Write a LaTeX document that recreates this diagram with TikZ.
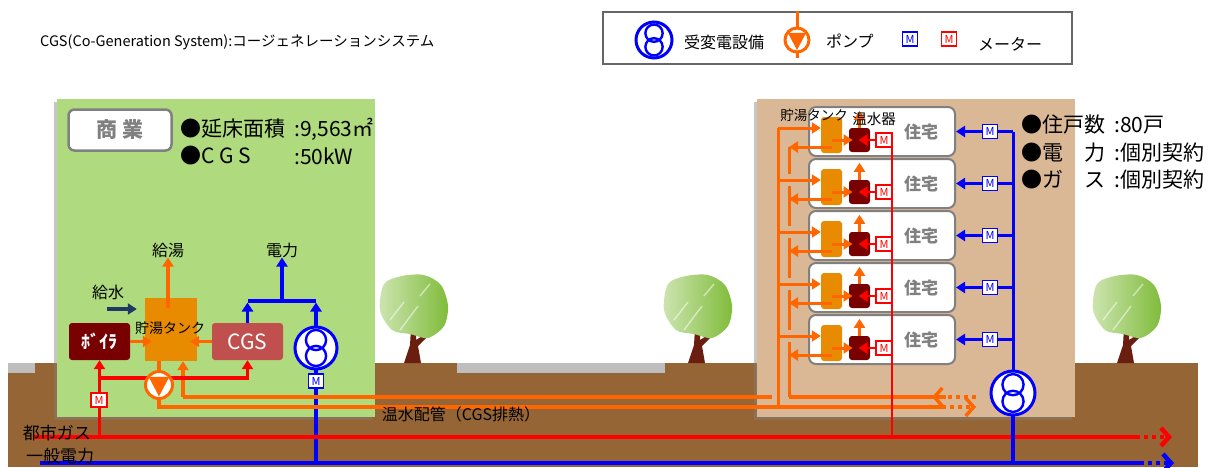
\documentclass[tikz,border=0pt]{standalone}
\usepackage{fontspec}
\setmainfont{Noto Sans CJK JP}
\usetikzlibrary{arrows.meta,shadows,calc}

\definecolor{soil}{RGB}{150,101,53}
\definecolor{road}{RGB}{190,190,190}
\definecolor{shopgreen}{RGB}{175,219,126}
\definecolor{housetan}{RGB}{219,184,149}
\definecolor{hotwater}{RGB}{255,102,0}
\definecolor{tankorange}{RGB}{233,139,0}
\definecolor{boilerred}{RGB}{120,0,0}
\definecolor{cgsred}{RGB}{192,80,77}
\definecolor{feednavy}{RGB}{31,56,100}
\definecolor{leaf}{RGB}{128,188,58}
\definecolor{bark}{RGB}{105,30,15}
\definecolor{frame}{RGB}{128,128,128}

\newcommand{\txtsize}[1]{\fontsize{#1}{#1}\selectfont}

\begin{document}
\begin{tikzpicture}[x=1pt,y=-1pt]

\tikzset{lbl/.style = {inner sep=0pt, font=\txtsize{16}}}
\tikzset{hot/.style = {draw=hotwater, line width=3.5pt}}
\tikzset{gas/.style = {draw=red, line width=3.5pt}}
\tikzset{elec/.style = {draw=blue, line width=3.5pt}}
\tikzset{edge/.style = {-{Triangle[length=9pt,width=11pt]}}}
\tikzset{barb/.style = {dash pattern=on 4pt off 4pt, -{Straight Barb[length=8pt,width=18pt]}}}
\tikzset{unit/.style = {rounded corners=3pt, inner sep=0pt}}
\tikzset{bldg/.style = {drop shadow={shadow xshift=-3pt, shadow yshift=-3pt, opacity=.45}}}
\tikzset{meter/.style = {draw=#1, fill=white, text=#1, line width=1.2pt, minimum width=15pt,
  minimum height=14pt, inner sep=0pt, font=\txtsize{11}}}
\tikzset{trafo/.style = {circle, draw=blue, line width=3pt, fill=white, minimum size=#1, inner sep=0pt,
  path picture={\draw[blue, line width=2.4pt]
    ([yshift={0.19*#1}]path picture bounding box.center) circle [radius={0.24*#1}]
    ([yshift={-0.19*#1}]path picture bounding box.center) circle [radius={0.24*#1}];}}}
\tikzset{pump/.style = {circle, draw=hotwater, line width=3pt, fill=white, minimum size=#1, inner sep=0pt,
  path picture={\fill[hotwater]
    ([shift={(-0.38*#1,0.3*#1)}]path picture bounding box.center) --
    ([shift={(0.38*#1,0.3*#1)}]path picture bounding box.center) --
    ([shift={(0,-0.42*#1)}]path picture bounding box.center) -- cycle;}}}

\useasboundingbox (0,0) rectangle (1213,467);

% ground, roads, trees
\fill[soil] (8,363) rectangle (1198,467);
\fill[road] (8,363) rectangle (35,373);
\fill[road] (457,363) rectangle (665,373);
\foreach \tx in {414,698,1127}{
  \fill[bark] (\tx-10,363) -- (\tx-4,345) -- (\tx-3,328) -- (\tx+2,328) -- (\tx+2,340)
    -- (\tx+13,333) -- (\tx+14,336) -- (\tx+4,346) -- (\tx+7,363) -- cycle;
  \shade[left color=leaf!40!white, right color=leaf] plot[smooth cycle] coordinates
    {(\tx-30,284) (\tx-12,276) (\tx+10,275) (\tx+27,285) (\tx+34,306) (\tx+30,326)
     (\tx+14,338) (\tx-4,334) (\tx-22,330) (\tx-34,310)};
  \draw[white, opacity=.5, line width=1.5pt] (\tx-24,320) -- (\tx-10,302)
    (\tx-14,330) -- (\tx+4,306) (\tx+6,296) -- (\tx+16,284);
}

\path[fill=shopgreen, bldg] (57,99) rectangle (375,417);
\path[fill=housetan, bldg] (757,99) rectangle (1075,417);

% legend
\node[lbl, anchor=west, font=\txtsize{14.5}] (title) at (40,42) {CGS(Co-Generation System):コージェネレーションシステム};
\node[draw=frame!80!black, line width=1.2pt, minimum width=469pt, minimum height=52pt] (legend) at (837.5,38) {};
\node[trafo=36pt] (ltr) at (654,40) {};
\node[lbl, anchor=west] (ltrtxt) at (684,42) {受変電設備};
\coordinate (lpc) at (797,40);
\draw[hot, line width=3pt] (legend.north -| lpc) -- ([yshift=-18pt]lpc);
\node[pump=24pt] (lpmp) at (lpc) {};
\node[lbl, anchor=west] (lpmptxt) at (826,41) {ポンプ};
\node[meter=blue] (lmb) at (910,39) {M};
\node[meter=red] (lmr) at (949,39) {M};
\node[lbl, anchor=west] (lmtxt) at (978,44) {メーター};

% commercial building
\node[draw=frame, line width=2.5pt, fill=white, rounded corners=6pt, minimum width=103pt,
  minimum height=41pt, text=frame, font=\bfseries\txtsize{21}] (shop) at (120,130) {商\hspace{5pt}業};
\node[lbl, anchor=west, font=\txtsize{21}] (area) at (180,129) {●延床面積};
\node[lbl, anchor=west, font=\txtsize{21}] (areav) at (294,129) {:9,563㎡};
\node[lbl, anchor=west, font=\txtsize{21}] (power) at (180,156) {●C G S};
\node[lbl, anchor=west, font=\txtsize{21}] (powerv) at (294,156) {:50kW};

\node[fill=tankorange, minimum width=52pt, minimum height=63pt, inner sep=0pt] (tank) at (171,329.5) {};
\node[unit, fill=boilerred, minimum width=61pt, minimum height=37pt, text=white,
  font=\bfseries\txtsize{18}] (boiler) at (99.5,341.5) {ﾎﾞｲﾗ};
\node[unit, fill=cgsred, minimum width=71pt, minimum height=37pt, text=white,
  font=\txtsize{21}] (cgs) at (247.5,341.5) {CGS};
\node[lbl] (hotout) at (168,250) {給湯};
\node[lbl] (powout) at (282,250) {電力};
\node[lbl] (feed) at (108,292) {給水};

\coordinate (elecW) at (40,463);
\coordinate (elecE) at (1140,463);
\coordinate (elecTip) at (1174,463);
\coordinate (gasW) at (33,437);
\coordinate (gasE) at (1136,437);
\coordinate (gasTip) at (1172,437);
\coordinate (tr1c) at (316,348);
\coordinate (tr2c) at (1013,393);
\coordinate (bus) at (282,301);
\coordinate (feedin) at (107,309);
\coordinate (pmpc) at (159,385);
\coordinate (gasrow) at (99,378);
\coordinate (retW) at (183,397);
\coordinate (supW) at (159,407);
\coordinate (supx) at (778,407);
\coordinate (suptop) at (778,128);
\coordinate (retx) at (789,397);
\coordinate (supE) at (942,407);
\coordinate (supTip) at (976,407);
\coordinate (retE) at (946,397);
\coordinate (retTip) at (932,397);
\coordinate (retFar) at (976,397);
\coordinate (rtop) at (892,140);
\coordinate (mrx) at (884,0);
\coordinate (mbx) at (990,0);

% electricity
\draw[elec, line width=4.5pt] (elecW) -- (elecE);
\draw[elec, line width=4.5pt, barb] (elecE) -- (elecTip);
\draw[elec] (tr1c |- elecW) -- (tr1c);
\draw[elec] (cgs.north |- bus) -- (tr1c |- bus);
\draw[elec, edge, shorten >=1.5pt] (cgs.north) -- (cgs.north |- bus);
\draw[elec, edge, shorten >=1.5pt] (tr1c) -- (tr1c |- bus);
\draw[elec, edge] (bus) -- (powout.south);

% hot water loop
\draw[hot] (tank.south -| pmpc) -- (supW) -- (supE);
\draw[hot, barb] (supE) -- (supTip);
\draw[hot, edge] (retW) -- (tank.south -| retW);
\draw[hot] (retW) -- ([xshift=-6pt]supx |- retW);
\draw[hot] (retx) -- (retE);
\draw[hot, barb] (retFar) -- (retTip);
\node[lbl, font=\txtsize{14}] (tanklbl) at (170,328) {貯湯タンク};
\draw[hot, edge] (boiler.east) -- ([xshift=7pt]boiler.east -| tank.west);
\draw[hot, edge] (cgs.west) -- ([xshift=-7pt]cgs.west -| tank.east);
\draw[hot, edge] ($(tank.north -| hotout)+(0,10)$) -- (hotout.south);
\draw[feednavy, line width=3.5pt, edge, shorten >=8pt] (feedin) -- (tank.west |- feedin);

% city gas
\draw[gas, line width=4.5pt] (gasW) -- (gasE);
\draw[gas, line width=4.5pt, barb] (gasE) -- (gasTip);
\draw[gas, edge] (boiler.south |- gasW) -- (boiler.south);
\draw[gas, edge] (boiler.south |- gasrow) -- (cgs.south |- gasrow) -- (cgs.south);

\node[pump=27pt] (pmp) at (pmpc) {};
\node[trafo=42pt] (tr1) at (tr1c) {};
\node[meter=blue] (m1) at (316,381) {M};
\node[meter=red, minimum width=16pt] (m2) at (99,400) {M};

\node[lbl, font=\txtsize{17}] (citygas) at (57,433) {都市ガス};
\node[lbl, font=\txtsize{17}] (grid) at (60,456) {一般電力};
\node[lbl] (pipelbl) at (461,414) {温水配管（CGS排熱）};

% dwellings
\foreach \i in {0,...,4}{
  \pgfmathsetmacro{\rowtop}{107+52*\i}
  \node[draw=frame, line width=2pt, fill=white, rounded corners=7pt, minimum width=146pt,
    minimum height=49pt, inner sep=0pt] (hs\i) at (882,\rowtop+24.5) {};
  \node[lbl, text=frame, font=\bfseries\txtsize{17}] (hl\i) at (921,\rowtop+25) {住宅};
  \node[unit, fill=tankorange, minimum width=21pt, minimum height=36pt] (tk\i) at (831.5,\rowtop+28) {};
  \node[unit, fill=boilerred, minimum width=21pt, minimum height=24pt] (ht\i) at (859.5,\rowtop+33) {};
}

\draw[hot, line width=3pt] (supx) -- (suptop);
\foreach \ya/\yb in {147/174,186/226,238/278,290/330,342/397}
  \draw[hot, line width=3pt] (789,\ya) -- (789,\yb);
\foreach \i in {0,...,4}{
  \draw[hot, line width=3pt, edge] ([yshift=7pt]tk\i.west -| supx) -- ([yshift=7pt]tk\i.west);
  \draw[hot, line width=3pt, edge] ([yshift=-12pt]tk\i.center) -- ([yshift=-12pt]tk\i.center -| retx);
  \draw[hot, line width=3pt, edge] ([yshift=-5pt]tk\i.center) -- ([xshift=-7pt]ht\i.center);
  \draw[hot, line width=3pt, edge] (ht\i.north) -- ([yshift=17pt]ht\i.north);
}

\draw[gas, line width=2.5pt] (rtop |- gasW) -- (rtop);
\foreach \i in {0,...,4}{
  \node[meter=red, minimum width=16pt] (mr\i) at (ht\i.center -| mrx) {M};
  \draw[gas, line width=2.5pt, edge] (mr\i.west) -- ([xshift=-1pt]ht\i.center);
}

\draw[elec] (tr2c |- elecW) -- (tr2c);
\draw[elec, line width=3pt] (tr2c) -- (tr2c |- hs0.east);
\foreach \i in {0,...,4}{
  \draw[elec, line width=3pt, edge] (tr2c |- hs\i.east) -- (hs\i.east);
  \node[meter=blue] (mb\i) at (hs\i.east -| mbx) {M};
}
\node[trafo=44pt] (tr2) at (tr2c) {};

\node[lbl, font=\txtsize{13.5}] (tklbl) at (814,115) {貯湯タンク};
\node[lbl, font=\txtsize{14.5}] (htlbl) at (874,119) {温水器};

\node[lbl, anchor=west, font=\txtsize{21}] (hh) at (1021,125) {●住戸数};
\node[lbl, anchor=west, font=\txtsize{21}] (hhv) at (1114,125) {:80戸};
\node[lbl, anchor=west, font=\txtsize{21}] (he) at (1021,153) {●電　力};
\node[lbl, anchor=west, font=\txtsize{21}] (hev) at (1114,153) {:個別契約};
\node[lbl, anchor=west, font=\txtsize{21}] (hg) at (1021,180) {●ガ　ス};
\node[lbl, anchor=west, font=\txtsize{21}] (hgv) at (1114,180) {:個別契約};

\end{tikzpicture}
\end{document}
